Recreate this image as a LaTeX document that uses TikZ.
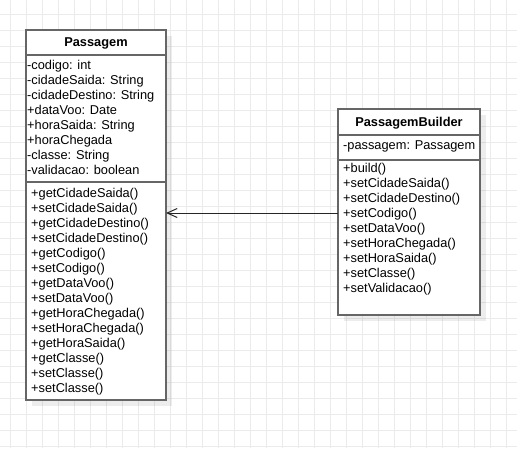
\documentclass[tikz,border=0pt]{standalone}
\usepackage{fontspec}
\setmainfont{Liberation Sans}
\usetikzlibrary{arrows.meta,shadows}
\definecolor{gridc}{HTML}{EBEBEB}
\definecolor{boxc}{HTML}{666666}
\begin{document}
\begin{tikzpicture}[x=1pt,y=-1pt,
  umlbox/.style={draw=boxc, line width=1.5pt, fill=white, inner sep=0pt, outer sep=0pt, anchor=north west,
    drop shadow={shadow xshift=6pt, shadow yshift=-6pt, fill=black, opacity=0.07}},
  sepline/.style={draw=boxc, line width=1.5pt},
  txt/.style={font=\fontsize{12.8}{15}\selectfont, inner sep=0pt, anchor=base west, text=black},
  ttl/.style={font=\fontsize{12.8}{15}\selectfont\bfseries, inner sep=0pt, anchor=base, text=black},
  link/.style={draw=black!85, line width=1pt, -{Straight Barb[length=10pt,width=9pt]}}]
\useasboundingbox (0,0) rectangle (517,448);
\fill[white] (0,0) rectangle (517,448);
\foreach \gx in {10,26,...,506} \draw[gridc, line width=1pt] (\gx,0) -- (\gx,448);
\foreach \gy in {14,30,...,446} \draw[gridc, line width=1pt] (0,\gy) -- (517,\gy);
% Passagem
\node[umlbox, minimum width=140pt, minimum height=370pt] (p) at (26,30) {};
\draw[sepline] ([yshift=-25pt]p.north west) -- ([yshift=-25pt]p.north east);
\draw[sepline] ([yshift=-152pt]p.north west) -- ([yshift=-152pt]p.north east);
\node[ttl] (pt) at (96,46.7) {Passagem};
\foreach \t [count=\i] in {-codigo: int,-cidadeSaida: String,-cidadeDestino: String,+dataVoo: Date,+horaSaida: String,+horaChegada,-classe: String,-validacao: boolean}
  \node[txt] (pa\i) at (27,54+15*\i) {\t};
\foreach \t [count=\i] in {+getCidadeSaida(),+setCidadeSaida(),+getCidadeDestino(),+setCidadeDestino(),+getCodigo(),+setCodigo(),+getDataVoo(),+setDataVoo(),+getHoraChegada(),+setHoraChegada(),+getHoraSaida(),+getClasse(),+setClasse(),+setClasse()}
  \node[txt] (pm\i) at (31,182.5+15*\i) {\t};
% PassagemBuilder
\node[umlbox, minimum width=142pt, minimum height=206pt] (pb) at (338,109) {};
\draw[sepline] ([yshift=-26pt]pb.north west) -- ([yshift=-26pt]pb.north east);
\draw[sepline] ([yshift=-51pt]pb.north west) -- ([yshift=-51pt]pb.north east);
\node[ttl] (pbt) at (409,126.7) {PassagemBuilder};
\node[txt] (pba1) at (343,149.3) {-passagem: Passagem};
\foreach \t [count=\i] in {+build(),+setCidadeSaida(),+setCidadeDestino(),+setCodigo(),+setDataVoo(),+setHoraChegada(),+setHoraSaida(),+setClasse(),+setValidacao()}
  \node[txt] (pbm\i) at (343,157.7+15*\i) {\t};
% link
\coordinate (ay) at (0,213);
\draw[link] (pb.west |- ay) -- (p.east |- ay);
\end{tikzpicture}
\end{document}
